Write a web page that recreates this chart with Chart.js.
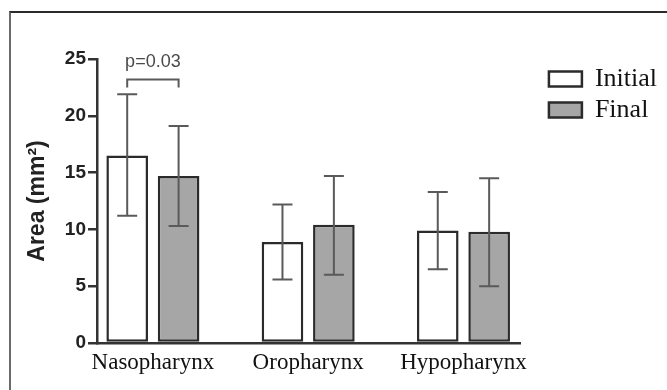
<!DOCTYPE html>
<html>
<head>
<meta charset="utf-8">
<script src="https://cdn.jsdelivr.net/npm/chart.js@4.4.1/dist/chart.umd.min.js"></script>
<style>
  html, body { margin: 0; padding: 0; background: #fff; }
  #wrap { position: relative; width: 667px; height: 390px; }
  #frame {
    position: absolute; left: 9px; top: 11px; right: 0; bottom: 0;
    border-left: 2px solid #6a6a6a; border-top: 2px solid #2a2a2a;
  }
  canvas { position: absolute; left: 0; top: 0; }
</style>
</head>
<body>
<div id="wrap">
  <div id="frame"></div>
  <canvas id="chart" width="667" height="390"></canvas>
</div>
<script>
const categories = ['Nasopharynx', 'Oropharynx', 'Hypopharynx'];
const seriesNames = ['Initial', 'Final'];
const initialMeans = [16.5, 8.9, 9.9];
const initialLow = [11.2, 5.6, 6.5];
const initialHigh = [21.9, 12.2, 13.3];
const finalMeans = [14.7, 10.4, 9.8];
const finalLow = [10.3, 6.0, 5.0];
const finalHigh = [19.1, 14.7, 14.5];
const yTicks = [0, 5, 10, 15, 20, 25];
// significance bracket between the two nasopharynx bars
const pLabel = 'p=0.03';
const bracketValue = 23.2;
const bracketFoot = 22.5;
const pTextValue = 24.7;

const LEGEND_SHIFT = 23;
const LEGEND_DROP = 2;

const errorBars = {
  id: 'errorBars',
  afterDatasetsDraw(chart) {
    const ctx = chart.ctx;
    const y = chart.scales.y;
    const lows = [initialLow, finalLow];
    const highs = [initialHigh, finalHigh];
    ctx.save();
    ctx.strokeStyle = '#5a5a5a';
    ctx.lineWidth = 2;
    chart.data.datasets.forEach((ds, d) => {
      chart.getDatasetMeta(d).data.forEach((bar, i) => {
        const top = y.getPixelForValue(highs[d][i]);
        const bot = y.getPixelForValue(lows[d][i]);
        ctx.beginPath();
        ctx.moveTo(bar.x, top); ctx.lineTo(bar.x, bot);
        ctx.moveTo(bar.x - 10, top); ctx.lineTo(bar.x + 10, top);
        ctx.moveTo(bar.x - 10, bot); ctx.lineTo(bar.x + 10, bot);
        ctx.stroke();
      });
    });
    // bracket
    const a = chart.getDatasetMeta(0).data[0];
    const b = chart.getDatasetMeta(1).data[0];
    const by = y.getPixelForValue(bracketValue);
    const bf = y.getPixelForValue(bracketFoot);
    ctx.beginPath();
    ctx.moveTo(a.x, bf); ctx.lineTo(a.x, by); ctx.lineTo(b.x, by); ctx.lineTo(b.x, bf);
    ctx.stroke();
    ctx.fillStyle = '#4a4a4a';
    ctx.font = '18px "Liberation Sans", Arial, sans-serif';
    ctx.textAlign = 'center';
    ctx.textBaseline = 'middle';
    ctx.fillText(pLabel, (a.x + b.x) / 2, y.getPixelForValue(pTextValue));
    ctx.restore();
  }
};

const shiftLegend = {
  id: 'shiftLegend',
  afterLayout(chart) {
    chart.legend.left += LEGEND_SHIFT;
    chart.legend.right += LEGEND_SHIFT;
    chart.legend.top += LEGEND_DROP;
  }
};

new Chart(document.getElementById('chart'), {
  type: 'bar',
  data: {
    datasets: [
      {
        label: seriesNames[0],
        data: initialMeans.map((v, i) => ({ x: i, y: v })),
        backgroundColor: '#ffffff',
        borderColor: '#2b2b2b',
        borderWidth: 2.5,
        borderSkipped: false
      },
      {
        label: seriesNames[1],
        data: finalMeans.map((v, i) => ({ x: i, y: v })),
        backgroundColor: '#a6a6a6',
        borderColor: '#2b2b2b',
        borderWidth: 2.5,
        borderSkipped: false
      }
    ]
  },
  options: {
    responsive: false,
    animation: false,
    layout: { padding: { top: 59, left: 12, right: 23, bottom: 0 } },
    categoryPercentage: 0.662,
    barPercentage: 0.81,
    plugins: {
      tooltip: { enabled: false },
      legend: {
        position: 'right',
        align: 'start',
        labels: {
          boxWidth: 33,
          boxHeight: 15,
          padding: 5,
          color: '#111',
          font: { family: '"Liberation Serif", "Times New Roman", serif', size: 26 }
        }
      }
    },
    scales: {
      x: {
        type: 'linear',
        offset: false,
        min: -0.36,
        max: 2.37,
        afterBuildTicks: s => { s.ticks = categories.map((c, i) => ({ value: i })); },
        afterFit: s => { s.height = 47; },
        grid: { display: false, drawTicks: false, offset: false },
        border: { display: true, color: '#333', width: 2.5 },
        ticks: {
          padding: 6,
          maxRotation: 0,
          autoSkip: false,
          color: '#111',
          font: { family: '"Liberation Serif", "Times New Roman", serif', size: 23 },
          callback: v => categories[v]
        }
      },
      y: {
        min: 0,
        max: 25,
        afterBuildTicks: s => { s.ticks = yTicks.map(v => ({ value: v })); },
        afterFit: s => { s.width = 85; },
        grid: { drawOnChartArea: false, drawTicks: true, tickLength: 9, color: '#333', lineWidth: 2.5 },
        border: { display: true, color: '#333', width: 2.5 },
        ticks: {
          padding: 2,
          color: '#222',
          font: { family: '"Liberation Sans", Arial, sans-serif', size: 19, weight: 'bold' }
        },
        title: {
          display: true,
          text: 'Area (mm²)',
          color: '#222',
          padding: { top: 12, bottom: 0 },
          font: { family: '"Liberation Sans", Arial, sans-serif', size: 23, weight: 'bold' }
        }
      }
    }
  },
  plugins: [errorBars, shiftLegend]
});
</script>
</body>
</html>
